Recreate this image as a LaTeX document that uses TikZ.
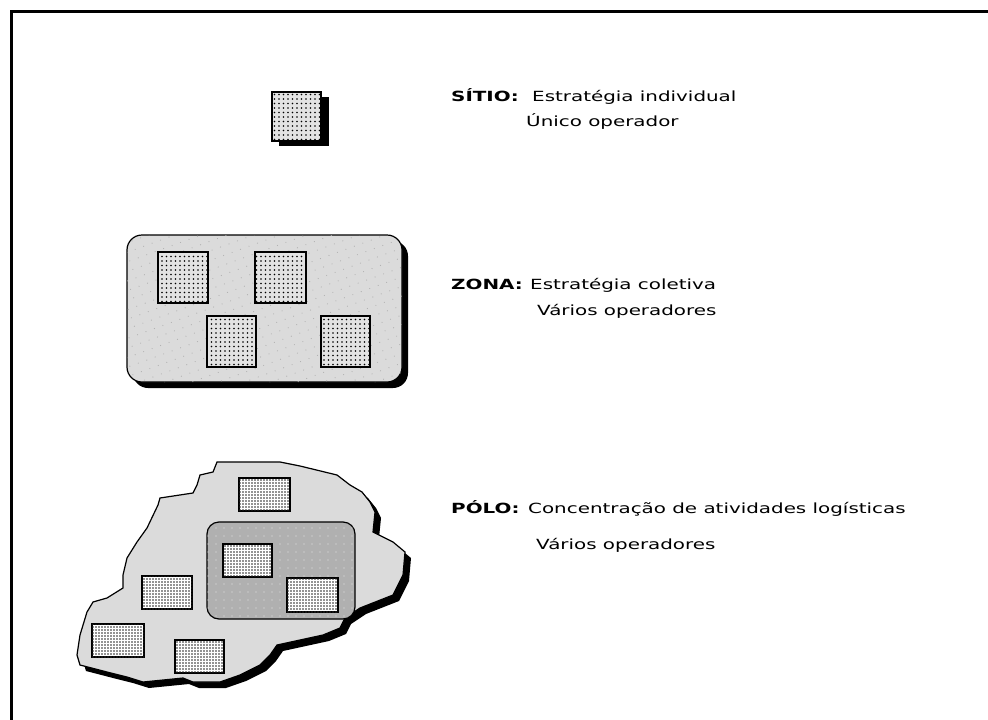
\documentclass[tikz,border=0pt]{standalone}
\usepackage{fontspec}
\setmainfont{DejaVu Sans}[FakeStretch=1.42]
\usetikzlibrary{patterns.meta}
\begin{document}
\begin{tikzpicture}[x=1pt,y=-1pt,
  lbl/.style={anchor=base west, inner sep=0pt, font=\fontsize{14}{16}\selectfont},
  sq/.style={draw=black, line width=1.4pt, fill=gray!22,
    postaction={pattern={Dots[distance=4.5pt,radius=0.85pt]}, pattern color=black}},
  prect/.style={draw=black, line width=1.2pt, fill=white,
    postaction={pattern={Dots[distance=3pt,radius=0.85pt]}, pattern color=black!85}},
  zonefill/.style={draw=black, line width=1.2pt, fill=gray!28,
    postaction={pattern={Dots[distance=9pt,radius=0.6pt,angle=20]}, pattern color=gray!60}},
  innerfill/.style={draw=black, line width=1.2pt, fill=gray!62,
    postaction={pattern={Dots[distance=8pt,radius=0.7pt]}, pattern color=gray!20}},
  shadow/.style={fill=black, draw=none}
]
\useasboundingbox (0,0) rectangle (988,720);
\fill[white] (0,0) rectangle (988,720);
% frame
\draw[line width=3pt] (11,720) -- (11,11) -- (988,11);

% SITIO
\fill[shadow] (279,97) rectangle (329,146);
\draw[sq] (272,92) rectangle (321,141);

% ZONA
\fill[shadow, rounded corners=15pt] (133,241) rectangle (408,388);
\draw[zonefill, rounded corners=15pt] (127,235) rectangle (402,382);
\draw[sq] (158,252) rectangle (208,303);
\draw[sq] (255,252) rectangle (306,303);
\draw[sq] (207,316) rectangle (256,367);
\draw[sq] (321,316) rectangle (370,367);

% POLO
\def\polopath{(217,462) -- (280,462) -- (300,466) -- (337,475) -- (350,485) -- (362,492) -- (370,502) -- (375,512) -- (373,532) -- (393,542) -- (405,552) -- (403,575) -- (393,595) -- (360,608) -- (345,618) -- (340,628) -- (323,635) -- (277,645) -- (270,655) -- (260,665) -- (240,675) -- (220,682) -- (193,682) -- (183,678) -- (143,682) -- (127,677) -- (107,672) -- (80,665) -- (77,655) -- (80,635) -- (87,612) -- (93,602) -- (107,598) -- (123,588) -- (123,575) -- (127,558) -- (137,542) -- (147,528) -- (158,505) -- (160,498) -- (193,493) -- (197,485) -- (200,475) -- (213,472) -- cycle}
\fill[shadow, shift={(6,6)}] \polopath;
\draw[line width=1.2pt, fill=gray!28] \polopath;
\draw[innerfill, rounded corners=12pt] (207,522) rectangle (355,619);
\draw[prect] (239,478) rectangle (290,511);
\draw[prect] (223,544) rectangle (272,577);
\draw[prect] (287,578) rectangle (338,612);
\draw[prect] (142,576) rectangle (192,609);
\draw[prect] (92,624) rectangle (144,657);
\draw[prect] (175,640) rectangle (224,673);

% texts
\node[lbl] (t1) at (451,101) {\textbf{SÍTIO:}};
\node[lbl] (t1b) at (532,101) {Estratégia individual};
\node[lbl] (t2) at (526,126) {Único operador};
\node[lbl] (z1) at (451,289) {\textbf{ZONA:}};
\node[lbl] (z1b) at (530,289) {Estratégia coletiva};
\node[lbl] (z2) at (537,315) {Vários operadores};
\node[lbl] (p1) at (451,513) {\textbf{PÓLO:}};
\node[lbl] (p1b) at (528,513) {Concentração de atividades logísticas};
\node[lbl] (p2) at (536,549) {Vários operadores};
\end{tikzpicture}
\end{document}
